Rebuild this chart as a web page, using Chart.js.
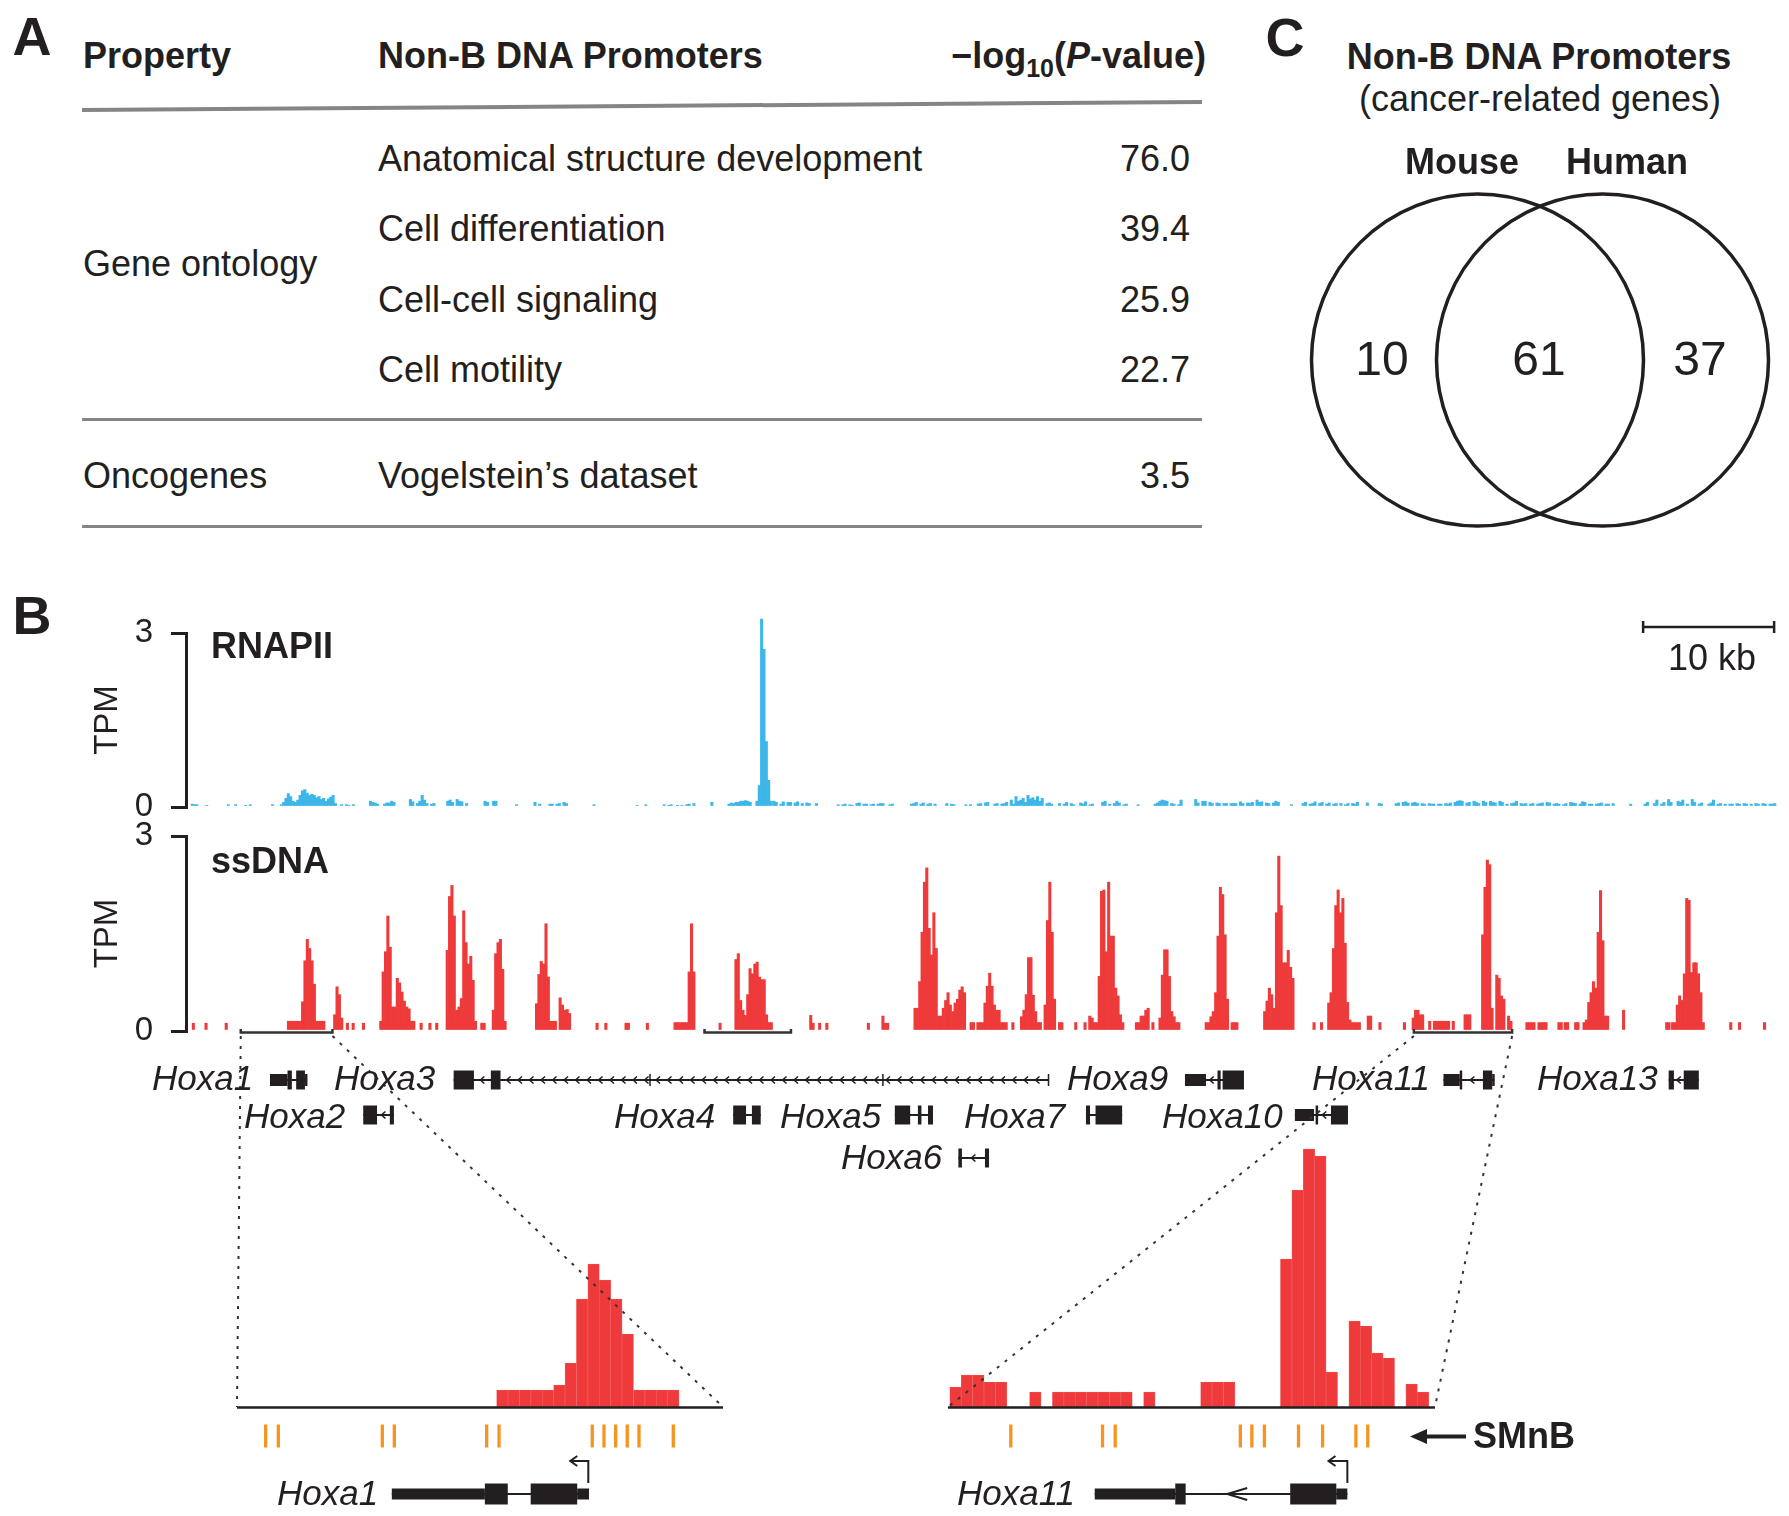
<!DOCTYPE html>
<html>
<head>
<meta charset="utf-8">
<script src="https://cdn.jsdelivr.net/npm/chart.js@4.4.1/dist/chart.umd.min.js"></script>
<style>
  html, body { margin: 0; padding: 0; background: #fff; }
  #fig { position: relative; width: 1789px; height: 1516px; overflow: hidden;
         font-family: 'Liberation Sans', Arial, Helvetica, sans-serif; color: #231f20; }
  #fig canvas { position: absolute; }
  .t { position: absolute; white-space: nowrap; line-height: 1; z-index: 5; }
  .rule { position: absolute; background: #858585; }
</style>
</head>
<body>
<div id="fig"></div>
<script>
// ---- panel A table ----
const goTerms = ['Anatomical structure development', 'Cell differentiation', 'Cell-cell signaling', 'Cell motility'];
const goLogP = [76.0, 39.4, 25.9, 22.7];
const oncoTerms = ['Vogelstein\u2019s dataset'];
const oncoLogP = [3.5];

// ---- panel C venn ----
const vennSets = ['Mouse', 'Human'];
const vennCounts = [10, 61, 37]; // mouse only, both, human only

// ---- panel B tracks (kb from left edge of window, TPM) ----
const binKb = 0.18;
const tpmTicks = [0, 3];
const rnapStarts = [0.1, 1.2, 2.86, 4.17, 6.23, 6.89, 11.5, 13.7, 16.75, 19.6, 22.45, 23.1, 24.86, 26.26, 27.4,
  30.77, 34.06, 34.72, 36.12, 37.13, 39.76, 41.07, 43.2, 44.5, 49.4, 55.0, 57.7, 59.15, 60.1, 63.9, 66.3, 69.6,
  72.3, 73.6, 76.7, 84.0, 84.9, 89.8, 90.7, 92.0, 109.9, 111.0];
const rnapVals = [
  [0.05, 0.04, 0.04], [0.03], [0.04, 0, 0, 0.04], [0.03, 0, 0.04], [0.04],
  [0.04, 0.08, 0.15, 0.23, 0.18, 0.1, 0.08, 0.12, 0.2, 0.28, 0.3, 0.24, 0.2, 0.22, 0.2, 0.16, 0.18, 0.13, 0.15, 0.1, 0.14, 0.17, 0.2, 0.06],
  [0.04, 0, 0.04, 0.03, 0, 0.04],
  [0.1, 0.08, 0.07, 0.05, 0, 0, 0.05, 0.07, 0.07, 0.1, 0.08],
  [0.13, 0.09, 0, 0.06, 0.1, 0.2, 0.12, 0.06, 0, 0.05, 0.06],
  [0.1, 0.12, 0.08, 0, 0.13, 0.1, 0.09, 0, 0.06],
  [0.1, 0.08], [0.1, 0.1], [0.04], [0.08, 0, 0.05],
  [0.05, 0.05, 0, 0.05, 0.06, 0, 0.08, 0.06],
  [0.04], [0.03], [0.04], [0.04, 0, 0.03, 0.04],
  [0.03, 0, 0.03, 0, 0.04, 0.05, 0, 0.06],
  [0.08],
  [0.05, 0.07, 0.06, 0.08, 0.08, 0.1, 0.1, 0.11, 0.1, 0.08],
  [0.1, 0.37, 3.24, 2.72, 1.13, 0.46, 0.1],
  [0.1, 0.08, 0, 0.05, 0.09, 0, 0.08, 0.08, 0, 0.07, 0.09, 0, 0.06, 0, 0.07, 0.06, 0, 0, 0.06],
  [0.04, 0, 0.04, 0.05, 0, 0.04, 0.03, 0, 0.06, 0.07, 0, 0.05, 0.05, 0, 0.04, 0.05, 0, 0.05, 0.06, 0.06, 0, 0, 0.04, 0.05],
  [0.05, 0.06, 0.08, 0, 0.05, 0.07, 0, 0.05, 0.06, 0, 0.05],
  [0.06, 0, 0.05, 0.04],
  [0.04, 0, 0.04],
  [0.05, 0.06, 0, 0.07, 0.08, 0, 0, 0.05, 0.06, 0, 0.05, 0.06, 0.08, 0, 0.12, 0.05, 0.18, 0.1, 0.12, 0.15, 0.08],
  [0.2, 0.14, 0.16, 0.12, 0.18, 0.1, 0.15, 0, 0.06, 0.07, 0.05],
  [0.06, 0, 0.05, 0.08, 0, 0.06, 0.04, 0, 0, 0.07, 0.05, 0.09, 0, 0.04, 0.05],
  [0.08, 0.1, 0, 0.05, 0, 0.06, 0.1, 0.07, 0, 0.04, 0.05],
  [0.04],
  [0.05, 0.07, 0.1, 0.12, 0.11, 0.1, 0, 0.06, 0.05, 0, 0.04, 0.12],
  [0.13, 0.07, 0, 0.1, 0.1, 0, 0.08, 0.06, 0, 0.07, 0.06, 0, 0.06, 0.06, 0, 0.06, 0.06, 0.06, 0, 0.09,
   0.06, 0, 0.07, 0.06, 0.08, 0, 0.12, 0.08, 0.09, 0, 0.07, 0.06, 0, 0.07, 0.1, 0.08],
  [0.04],
  [0.06, 0.08, 0, 0.05, 0.06, 0.09, 0, 0.06, 0.08, 0, 0.05, 0.07, 0, 0.05, 0.06, 0, 0.06, 0, 0.04, 0.06, 0, 0.06, 0.05, 0.08],
  [0.07], [0.06, 0.05],
  [0.06, 0.07, 0, 0.08, 0.09, 0.07, 0, 0.07, 0.08, 0.06, 0, 0.06, 0.05, 0, 0.06, 0.05, 0.05, 0, 0.05, 0.05,
   0, 0.06, 0.05, 0.07, 0, 0.08, 0.1, 0.11, 0.1, 0, 0.07, 0.08, 0, 0.1, 0.08, 0.06, 0, 0.1, 0.08, 0,
   0.1, 0.08, 0.07, 0, 0.1, 0.08, 0, 0.05, 0, 0.06, 0.07, 0.1, 0, 0.06, 0.05, 0.06, 0, 0.05, 0.06, 0,
   0.05, 0.06, 0.07, 0, 0.08, 0.07, 0, 0.05, 0.06, 0.05, 0, 0.04, 0.06, 0, 0.08, 0.07, 0.06, 0, 0.05, 0.09,
   0.08, 0, 0.05, 0.05, 0, 0.05, 0.06, 0.07, 0, 0.05, 0.05, 0, 0.06],
  [0.05],
  [0.05, 0.08, 0, 0, 0.06, 0.12, 0, 0.05, 0.08, 0, 0.13, 0.08, 0, 0, 0.1, 0.08, 0.12, 0, 0.05, 0,
   0.13, 0.08, 0, 0.05, 0.07, 0, 0, 0.05, 0.07, 0.12, 0, 0.05, 0.06, 0, 0.05, 0, 0.05, 0.05, 0, 0.06,
   0.05, 0, 0.06, 0.05, 0, 0.05, 0, 0.06, 0.05, 0, 0.06, 0.05, 0, 0.05, 0.05, 0.06]
];
const ssdnaStarts = [0.18, 1.15, 2.69, 7.44, 10.97, 11.94, 12.38, 13.17, 14.49, 17.57, 18.24, 18.76, 19.56, 22.2, 23.08,
  26.38, 31.0, 31.67, 33.21, 34.84, 36.95, 40.39, 41.6, 47.31, 47.99, 48.54, 51.71, 52.82, 55.27, 59.55, 60.07, 62.74,
  63.4, 66.3, 67.54, 68.25, 68.61, 72.17, 77.5, 81.96, 85.73, 86.3, 86.85, 89.87, 90.76, 92.63, 93.3, 98.6, 101.98,
  102.9, 104.42, 104.9, 105.7, 106.34, 109.36, 112.65, 113.1, 117.54, 118.21, 120.12];
const ssdnaVals = [
  [0.12], [0.12], [0.12],
  [0.15, 0.15, 0.15, 0.15, 0.15, 0.15, 0.45, 1.08, 1.41, 1.27, 1.08, 0.72, 0.15, 0.15, 0.15, 0.15],
  [0.25, 0.68, 0.56, 0.2],
  [0.12], [0.12], [0.12],
  [0.15, 0.91, 1.22, 1.77, 1.29, 0.37, 0.37, 0.81, 0.74, 0.6, 0.46, 0.37, 0.34, 0.15, 0.15],
  [0.12], [0.12], [0.12],
  [1.24, 2.07, 2.24, 1.77, 0.32, 0.37, 0.5, 1.85, 1.36, 1.03, 1.15, 0.78, 0.15],
  [0.12, 0.12],
  [0.32, 1.19, 1.36, 1.41, 0.95, 0.15],
  [0.42, 0.87, 1.07, 1.03, 1.65, 0.83, 0.15, 0.15, 0.15, 0, 0.51, 0.4, 0.32, 0.33, 0.27],
  [0.12], [0.12], [0.12, 0.12], [0.12],
  [0.13, 0.13, 0.13, 0.13, 0.13, 0.13, 0.91, 1.65, 0.91],
  [0.12],
  [1.1, 1.19, 0.47, 0.32, 0.24, 0.56, 0.96, 0.88, 1.03, 1.06, 0.83, 0.79, 0.79, 0.25, 0.13, 0.13],
  [0.24, 0.12], [0.12], [0.12], [0.12], [0.23, 0.12, 0.12],
  [0.35, 0.35, 0.76, 1.52, 2.29, 2.51, 1.58, 1.17, 1.82, 1.27, 0.23, 0.23, 0.35, 0.47, 0.59, 0.4, 0.3, 0.43, 0.49, 0.63, 0.68, 0.59],
  [0.13, 0.13],
  [0.13, 0.13, 0.13, 0.43, 0.69, 0.89, 0.69, 0.4, 0.32, 0.32, 0.13, 0.13, 0.13],
  [0.13],
  [0.22, 0.32, 0.56, 1.13, 1.13, 0.55, 0.3, 0.13, 0.13, 0, 0.4, 1.7, 2.29, 1.52, 0.49],
  [0.13, 0.13], [0.13], [0.13],
  [0.23, 0.2, 0.13, 0.13, 0.84, 2.15, 2.17, 1.22, 2.29, 1.46, 1.46, 0.66, 0.54, 0.25, 0.13],
  [0.13, 0.13, 0.23, 0.23, 0.32, 0.35, 0, 0.13, 0, 0, 0.2, 0.86, 1.25, 1.25, 0.84, 0.3, 0.22, 0.13, 0.13],
  [0.13, 0.13, 0.22, 0.3, 0.59, 1.46, 2.21, 2.1, 1.48, 0.49, 0, 0.13, 0.13, 0.13],
  [0.3, 0.46, 0.66, 0.56, 0.35, 1.82, 2.69, 1.93, 1.05, 1.05, 1.24, 0.98, 0.81],
  [0.13], [0.13],
  [0.43, 0.59, 1.27, 1.93, 2.17, 1.82, 2.04, 1.35, 0.44, 0.17, 0.13, 0.13, 0.13, 0.13],
  [0.23, 0.23], [0.13], [0.13],
  [0.2, 0.32, 0.32, 0.25, 0.25, 0, 0, 0.15, 0, 0.15, 0.15, 0.15, 0.15, 0.15, 0.15, 0.15, 0, 0.15, 0, 0, 0, 0, 0.25, 0.25, 0.25],
  [1.48, 2.21, 2.63, 2.56, 0.35, 0, 0.86, 0.81, 0.54, 0.49, 0, 0.23, 0.15],
  [0.13, 0.13, 0.13, 0.13], [0.13, 0.13, 0.13, 0.13], [0.13, 0.13], [0.13, 0.13], [0.13, 0.13],
  [0.13, 0.17, 0.44, 0.59, 0.76, 0.66, 1.52, 2.16, 1.39, 0.23, 0.23],
  [0.32], [0.13, 0.13],
  [0.13, 0.13, 0.4, 0.54, 0.47, 0.88, 2.04, 2.01, 0.9, 1.05, 1.05, 0.88, 0.59, 0.13],
  [0.13], [0.13], [0.13]
];
const underlined = [[3.8, 10.8], [39.2, 45.8], [93.35, 100.85]];
const scaleBarKb = [110.85, 120.85];

// genes (kb), exon type c = coding (tall), u = UTR (short)
const geneNames = ['Hoxa1', 'Hoxa2', 'Hoxa3', 'Hoxa4', 'Hoxa5', 'Hoxa6', 'Hoxa7', 'Hoxa9', 'Hoxa10', 'Hoxa11', 'Hoxa13'];
const geneRows = [0, 1, 0, 1, 1, 2, 1, 0, 1, 0, 0];
const geneExons = [
  [[6.03, 7.37, 'u'], [7.37, 7.7, 'c'], [8.03, 8.7, 'c'], [8.7, 8.87, 'u']],
  [[13.15, 14.2, 'c'], [15.18, 15.49, 'c']],
  [[20.05, 21.6, 'c'], [22.89, 23.63, 'c']],
  [[41.39, 42.37, 'c'], [42.82, 43.49, 'c']],
  [[53.73, 54.9, 'c'], [55.49, 55.76, 'c'], [56.26, 56.64, 'c']],
  [[58.58, 58.85, 'c'], [60.61, 60.92, 'c']],
  [[68.32, 68.63, 'c'], [69.05, 71.08, 'c']],
  [[75.88, 77.48, 'u'], [78.36, 78.6, 'c'], [78.75, 80.38, 'c']],
  [[84.27, 85.73, 'u'], [85.85, 86.0, 'c'], [87.02, 88.32, 'c']],
  [[95.61, 96.85, 'u'], [96.85, 97.01, 'c'], [98.62, 99.33, 'c'], [99.33, 99.5, 'u']],
  [[112.8, 113.2, 'c'], [113.95, 115.1, 'c']]
];
const hoxa3Long = [23.63, 65.46];
const hoxa3LongMarks = [35.04, 52.82, 65.46];

// zoomed insets (kb, TPM)
const hoxa1Region = [3.8, 10.8];
const hoxa1Start = 7.54, hoxa1Bin = 0.1642;
const hoxa1Vals = [0.17, 0.17, 0.17, 0.17, 0.17, 0.22, 0.44, 1.08, 1.43, 1.27, 1.08, 0.73, 0.17, 0.17, 0.17, 0.17];
const hoxa1SMnB = [4.213, 4.395, 5.893, 6.066, 7.396, 7.574, 8.917, 9.086, 9.254, 9.421, 9.59, 10.084];
const hoxa1Model = [[6.03, 7.37, 'u'], [7.37, 7.7, 'c'], [8.03, 8.7, 'c'], [8.7, 8.87, 'u']];
const hoxa1Tss = [8.86, 8.6];

const hoxa11Region = [93.35, 100.85];
const hoxa11Start = 93.378, hoxa11Bin = 0.1756;
const hoxa11Vals = [0.2, 0.32, 0.32, 0.25, 0.25, 0, 0, 0.15, 0, 0.15, 0.15, 0.15, 0.15, 0.15, 0.15, 0.15, 0, 0.15, 0, 0, 0, 0,
  0.25, 0.25, 0.25, 0, 0, 0, 0, 1.48, 2.17, 2.58, 2.51, 0.35, 0, 0.86, 0.81, 0.54, 0.49, 0, 0.23, 0.15];
const hoxa11SMnB = [94.317, 95.73, 95.925, 97.852, 98.029, 98.223, 98.748, 99.119, 99.632, 99.815];
const hoxa11Model = [[95.61, 96.85, 'u'], [96.85, 97.01, 'c'], [98.62, 99.33, 'c'], [99.33, 99.5, 'u']];
const hoxa11Tss = [99.5, 99.21];
const hoxa11Arrow = 97.65;
const smnbLevel = -0.29;

// ---- drawing ----
const ink = '#231f20';
const red = '#ee3a3a', blue = '#3db6e8', orange = '#f7941d';
Chart.defaults.font.family = "'Liberation Sans', Arial, Helvetica, sans-serif";
Chart.defaults.color = ink;

const fig = document.getElementById('fig');

function put(html, x, y, size, opts = {}) {
  const el = document.createElement('div');
  el.className = 't';
  el.innerHTML = html;
  el.style.left = x + 'px';
  el.style.top = y + 'px';
  el.style.fontSize = size + 'px';
  if (opts.bold) el.style.fontWeight = 'bold';
  if (opts.italic) el.style.fontStyle = 'italic';
  const tx = opts.align === 'right' ? '-100%' : opts.align === 'center' ? '-50%' : '0';
  el.style.transform = `translate(${tx}, -50%)`;
  fig.appendChild(el);
}

function rule(x, y, w, h, deg) {
  const el = document.createElement('div');
  el.className = 'rule';
  el.style.left = x + 'px';
  el.style.top = (y - h / 2) + 'px';
  el.style.width = w + 'px';
  el.style.height = h + 'px';
  if (deg) { el.style.transformOrigin = 'left center'; el.style.transform = `rotate(${deg}deg)`; }
  fig.appendChild(el);
}

function canvasAt(left, top, w, h, z) {
  const c = document.createElement('canvas');
  c.width = w; c.height = h;
  c.style.left = left + 'px'; c.style.top = top + 'px';
  c.style.width = w + 'px'; c.style.height = h + 'px';
  c.style.zIndex = z;
  fig.appendChild(c);
  return c;
}

function clusterPoints(starts, vals, step) {
  const pts = [];
  starts.forEach((s, k) => vals[k].forEach((v, i) => {
    if (v > 0) pts.push({ x: +(s + i * step).toFixed(3), y: v });
  }));
  return pts;
}

function binPoints(start, step, vals) {
  const pts = [];
  vals.forEach((v, i) => { if (v > 0) pts.push({ x: start + (i + 0.5) * step, y: v }); });
  return pts;
}

function chevron(ctx, x, y, w, h) {
  ctx.beginPath();
  ctx.moveTo(x + w, y - h);
  ctx.lineTo(x, y);
  ctx.lineTo(x + w, y + h);
  ctx.stroke();
}

function drawGene(ctx, xs, exons, y, hc, hu, withChevrons) {
  const px = v => xs.getPixelForValue(v);
  ctx.save();
  ctx.strokeStyle = ink; ctx.fillStyle = ink; ctx.lineWidth = 2;
  ctx.beginPath();
  ctx.moveTo(px(exons[0][0]), y);
  ctx.lineTo(px(exons[exons.length - 1][1]), y);
  ctx.stroke();
  exons.forEach(([s, e, t]) => {
    const h = t === 'u' ? hu : hc;
    ctx.fillRect(px(s), y - h / 2, Math.max(px(e) - px(s), 2.5), h);
  });
  if (withChevrons) {
    ctx.lineWidth = 1.6;
    for (let k = 1; k < exons.length; k++) {
      const a = px(exons[k - 1][1]), b = px(exons[k][0]);
      if (b - a > 8) chevron(ctx, (a + b) / 2 - 2, y, 4, 3.5);
    }
  }
  ctx.restore();
}

const base = {
  responsive: false, animation: false, events: [],
  plugins: { legend: { display: false }, tooltip: { enabled: false } }
};

function trackY() {
  return {
    min: 0, max: 3,
    afterBuildTicks: s => { s.ticks = tpmTicks.map(v => ({ value: v })); },
    afterFit: s => { s.width = 102; },
    border: { display: true, color: ink, width: 3 },
    grid: { drawOnChartArea: false, drawTicks: true, tickLength: 15, lineWidth: 3, color: ink },
    ticks: { font: { size: 33 }, color: ink, padding: 18 },
    title: { display: true, text: 'TPM', font: { size: 33 }, color: ink, padding: { top: 4, bottom: 4 } }
  };
}
const trackX = { type: 'linear', display: false, min: -0.38, max: 121.07, offset: false };

// page layout [left, top, width, height]
const L = {
  rnap: [84, 590, 1705, 257], ssdna: [84, 796, 1705, 624],
  in1: [237, 1130, 486, 386], in2: [948, 1130, 530, 386], venn: [1290, 180, 499, 360]
};
const insetBase = 1407; // page y of inset baselines

// RNAPII track
const scaleBar = {
  id: 'scaleBar',
  afterDraw(chart) {
    const ctx = chart.ctx, xs = chart.scales.x;
    const a = xs.getPixelForValue(scaleBarKb[0]), b = xs.getPixelForValue(scaleBarKb[1]);
    const y = chart.chartArea.top - 6;
    ctx.save();
    ctx.strokeStyle = ink; ctx.lineWidth = 2.5;
    ctx.beginPath();
    ctx.moveTo(a, y); ctx.lineTo(b, y);
    ctx.moveTo(a, y - 6); ctx.lineTo(a, y + 6);
    ctx.moveTo(b, y - 6); ctx.lineTo(b, y + 6);
    ctx.stroke();
    ctx.restore();
  }
};
new Chart(canvasAt(...L.rnap, 2), {
  type: 'bar',
  data: { datasets: [{ data: clusterPoints(rnapStarts, rnapVals, binKb), backgroundColor: blue, barThickness: 2.4, clip: false }] },
  options: { ...base, layout: { autoPadding: false, padding: { left: 0, right: 12, top: 43, bottom: 40 } },
    scales: { x: trackX, y: trackY() } },
  plugins: [scaleBar]
});

// ssDNA track + gene annotation + connectors to the insets
const ssdnaExtras = {
  id: 'ssdnaExtras',
  afterDraw(chart) {
    const ctx = chart.ctx, xs = chart.scales.x, bottom = chart.chartArea.bottom;
    const ox = L.ssdna[0], oy = L.ssdna[1];
    ctx.save();
    ctx.strokeStyle = '#333'; ctx.lineWidth = 2.5;
    underlined.forEach(([s, e]) => {
      const a = xs.getPixelForValue(s), b = xs.getPixelForValue(e);
      ctx.beginPath();
      ctx.moveTo(a, bottom - 2); ctx.lineTo(a, bottom + 1.5); ctx.lineTo(b, bottom + 1.5); ctx.lineTo(b, bottom - 2);
      ctx.stroke();
    });
    // genes
    const rowY = [1080, 1115, 1158].map(v => v - oy);
    geneExons.forEach((ex, i) => drawGene(ctx, xs, ex, rowY[geneRows[i]], 19, 12, true));
    const y0 = rowY[0];
    const a = xs.getPixelForValue(hoxa3Long[0]), b = xs.getPixelForValue(hoxa3Long[1]);
    ctx.strokeStyle = ink; ctx.lineWidth = 2;
    ctx.beginPath(); ctx.moveTo(a, y0); ctx.lineTo(b, y0); ctx.stroke();
    ctx.lineWidth = 1.5;
    for (let x = a + 6; x < b - 5; x += 11.5) chevron(ctx, x, y0, 4, 3.5);
    hoxa3LongMarks.forEach(m => {
      const x = xs.getPixelForValue(m);
      ctx.beginPath(); ctx.moveTo(x, y0 - 6); ctx.lineTo(x, y0 + 6); ctx.stroke();
    });
    // dotted connectors
    ctx.strokeStyle = '#333'; ctx.lineWidth = 2; ctx.setLineDash([3, 7]);
    const yb = insetBase - oy;
    const ends = [
      [underlined[0][0], L.in1[0]], [underlined[0][1], L.in1[0] + L.in1[2]],
      [underlined[2][0], L.in2[0]], [underlined[2][1], L.in2[0] + 487]
    ];
    ends.forEach(([kb, px]) => {
      ctx.beginPath();
      ctx.moveTo(xs.getPixelForValue(kb), bottom + 5);
      ctx.lineTo(px - ox, yb);
      ctx.stroke();
    });
    ctx.restore();
  }
};
new Chart(canvasAt(...L.ssdna, 3), {
  type: 'bar',
  data: { datasets: [{ data: clusterPoints(ssdnaStarts, ssdnaVals, binKb), backgroundColor: red, barThickness: 2.4, clip: false }] },
  options: { ...base, layout: { autoPadding: false, padding: { left: 0, right: 12, top: 40, bottom: 389 } },
    scales: { x: trackX, y: trackY() } },
  plugins: [ssdnaExtras]
});

// zoomed insets
function insetChart(box, region, start, bin, vals, smnb, model, tss, padRight, extra) {
  const modelPlugin = {
    id: 'model',
    afterDraw(chart) {
      const ctx = chart.ctx, xs = chart.scales.x, ca = chart.chartArea;
      const zero = chart.scales.y.getPixelForValue(0);
      ctx.save();
      ctx.strokeStyle = ink; ctx.lineWidth = 2.5;
      ctx.beginPath(); ctx.moveTo(ca.left, zero + 0.5); ctx.lineTo(ca.right, zero + 0.5); ctx.stroke();
      const y = zero + 87;
      drawGene(ctx, xs, model, y, 21, 11, false);
      const tx = xs.getPixelForValue(tss[0]), hx = xs.getPixelForValue(tss[1]);
      ctx.lineWidth = 2;
      ctx.beginPath(); ctx.moveTo(tx, y - 11); ctx.lineTo(tx, y - 33); ctx.lineTo(hx, y - 33); ctx.stroke();
      chevron(ctx, hx, y - 33, 7, 5);
      if (extra) extra(ctx, xs, ca, y, zero);
      ctx.restore();
    }
  };
  return new Chart(canvasAt(...box, 1), {
    type: 'bar',
    data: { datasets: [
      { data: binPoints(start, bin, vals), backgroundColor: red, borderColor: '#f26565', borderWidth: 0.6, barThickness: 11.4 },
      { type: 'line', showLine: false, data: smnb.map(k => ({ x: k, y: smnbLevel })), pointStyle: 'line', pointRotation: 90,
        pointRadius: 11.5, pointBorderWidth: 3.3, pointBorderColor: orange, borderColor: orange, clip: false }
    ] },
    options: { ...base, layout: { autoPadding: false, padding: { left: 0, right: padRight, top: 7, bottom: 64 } },
      scales: {
        x: { type: 'linear', display: false, min: region[0], max: region[1], offset: false },
        y: { display: false, min: -0.45, max: 2.7 }
      } },
    plugins: [modelPlugin]
  });
}

insetChart(L.in1, hoxa1Region, hoxa1Start, hoxa1Bin, hoxa1Vals, hoxa1SMnB, hoxa1Model, hoxa1Tss, 0);
insetChart(L.in2, hoxa11Region, hoxa11Start, hoxa11Bin, hoxa11Vals, hoxa11SMnB, hoxa11Model, hoxa11Tss, 43,
  (ctx, xs, ca, y, zero) => {
    ctx.lineWidth = 2;
    chevron(ctx, xs.getPixelForValue(hoxa11Arrow), y, 20, 6);
    // SMnB pointer
    const ay = zero + 29.5, tip = ca.right - 25;
    ctx.lineWidth = 4;
    ctx.beginPath(); ctx.moveTo(tip + 12, ay); ctx.lineTo(ca.right + 31, ay); ctx.stroke();
    ctx.fillStyle = ink;
    ctx.beginPath(); ctx.moveTo(tip, ay); ctx.lineTo(tip + 17, ay - 7.5); ctx.lineTo(tip + 17, ay + 7.5); ctx.closePath(); ctx.fill();
  });

// panel C venn
new Chart(canvasAt(...L.venn, 1), {
  type: 'scatter',
  data: { datasets: [{ data: [{ x: -0.5, y: 0 }, { x: 0.5, y: 0 }], pointRadius: 166, pointBorderWidth: 3.5,
    pointBorderColor: ink, pointBackgroundColor: 'rgba(0,0,0,0)', clip: false }] },
  options: { ...base, layout: { autoPadding: false, padding: 0 },
    scales: { x: { display: false, min: -2, max: 1.992 }, y: { display: false, min: -1, max: 1 } } }
});

// ---- text ----
put('A', 32, 36, 54, { bold: true, align: 'center' });
put('B', 32, 615, 54, { bold: true, align: 'center' });
put('C', 1285, 37, 54, { bold: true, align: 'center' });

put('Property', 83, 56, 36, { bold: true });
put('Non-B DNA Promoters', 378, 56, 36, { bold: true });
put('\u2212log<span style="font-size:25px;position:relative;top:9px">10</span>(<i>P</i>-value)', 1206, 56, 36, { bold: true, align: 'right' });
rule(82, 110, 1120, 3.5, -0.41);
const goY = [159, 229, 300, 370];
goTerms.forEach((t, i) => {
  put(t, 378, goY[i], 36);
  put(goLogP[i].toFixed(1), 1190, goY[i], 36, { align: 'right' });
});
put('Gene ontology', 83, 264, 36);
rule(82, 419.5, 1120, 2.5);
oncoTerms.forEach((t, i) => {
  put('Oncogenes', 83, 476, 36);
  put(t, 378, 476, 36);
  put(oncoLogP[i].toFixed(1), 1190, 476, 36, { align: 'right' });
});
rule(82, 526.5, 1120, 2.5);

put('Non-B DNA Promoters', 1539, 57, 36, { bold: true, align: 'center' });
put('(cancer-related genes)', 1540, 99, 36, { align: 'center' });
put(vennSets[0], 1462, 162, 36, { bold: true, align: 'center' });
put(vennSets[1], 1627, 162, 36, { bold: true, align: 'center' });
[1382, 1539, 1700].forEach((x, i) => put(String(vennCounts[i]), x, 359, 48, { align: 'center' }));

put('RNAPII', 211, 646, 36, { bold: true });
put('ssDNA', 211, 861, 36, { bold: true });
put('10 kb', 1712, 658, 36, { align: 'center' });

const labelX = [152, 244, 334, 614, 780, 841, 964, 1067, 1162, 1312, 1537];
const labelY = [1077, 1115, 1156];
geneNames.forEach((g, i) => put(g, labelX[i], labelY[geneRows[i]], 35, { italic: true }));
put('Hoxa1', 277, 1492, 35, { italic: true });
put('Hoxa11', 957, 1492, 35, { italic: true });
put('SMnB', 1473, 1436, 36, { bold: true });
</script>
</body>
</html>
